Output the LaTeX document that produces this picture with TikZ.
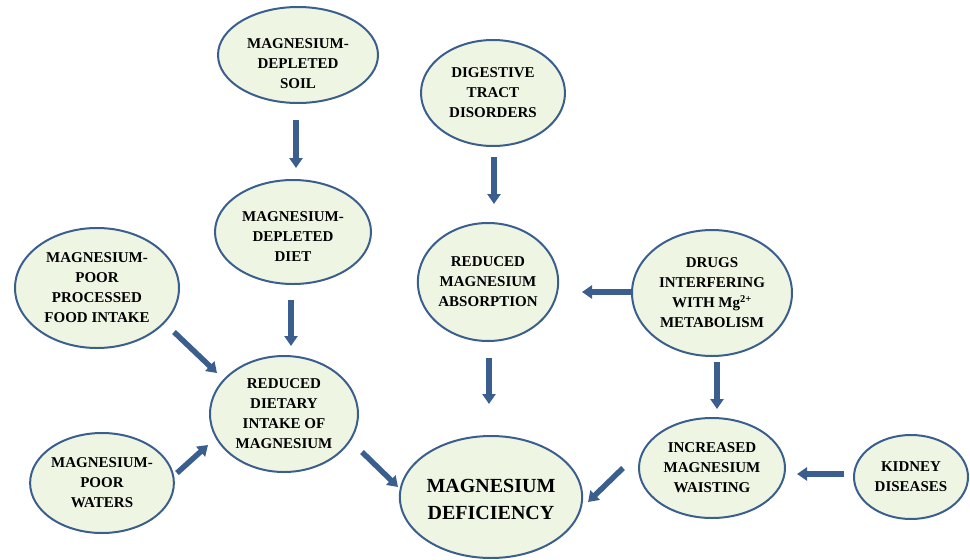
\documentclass[tikz,border=0pt]{standalone}
\usepackage{fontspec}
\setmainfont{Liberation Serif}
\usetikzlibrary{shapes.geometric,arrows.meta,calc}
\definecolor{edgeblue}{HTML}{3A5F8E}
\definecolor{fillgreen}{HTML}{EEF5E3}
\newcommand{\lowered}[2]{\raisebox{#1}[\height][\depth]{\begin{tabular}{@{}c@{}}#2\end{tabular}}}
\tikzset{
  bub/.style={ellipse, draw=edgeblue, line width=2pt, fill=fillgreen, inner sep=0pt,
    align=center, font=\fontsize{15}{20}\selectfont\bfseries},
  arr/.style={draw=edgeblue, line width=5.5pt, -{Triangle[length=10pt,width=13pt]}}
}
\begin{document}
\begin{tikzpicture}[x=1pt,y=-1pt]
\useasboundingbox (0,0) rectangle (970,560);
\node[bub, minimum width=160pt, minimum height=96pt] (soil) at (298,55) {\lowered{-9pt}{MAGNESIUM-\\DEPLETED\\SOIL}};
\node[bub, minimum width=144pt, minimum height=106pt] (dig) at (493,93) {DIGESTIVE\\TRACT\\DISORDERS};
\node[bub, minimum width=156pt, minimum height=104pt] (diet) at (293,232) {\lowered{-5pt}{MAGNESIUM-\\DEPLETED\\DIET}};
\node[bub, minimum width=140pt, minimum height=118pt] (abs) at (488,282) {REDUCED\\MAGNESIUM\\ABSORPTION};
\node[bub, minimum width=164pt, minimum height=120pt] (proc) at (97,288) {MAGNESIUM-\\POOR\\PROCESSED\\FOOD INTAKE};
\node[bub, minimum width=160pt, minimum height=126pt] (drugs) at (712,293) {DRUGS\\INTERFERING\\WITH Mg\textsuperscript{2+}\\METABOLISM};
\node[bub, minimum width=148pt, minimum height=116pt] (intake) at (284,414) {REDUCED\\DIETARY\\INTAKE OF\\MAGNESIUM};
\node[bub, minimum width=136pt, minimum height=100pt] (waters) at (102,483) {MAGNESIUM-\\POOR\\WATERS};
\node[bub, minimum width=162pt, minimum height=122pt, font=\fontsize{20}{27}\selectfont\bfseries] (def) at (491,497) {\lowered{-4pt}{MAGNESIUM\\DEFICIENCY}};
\node[bub, minimum width=146pt, minimum height=100pt] (incr) at (712,468) {INCREASED\\MAGNESIUM\\WAISTING};
\node[bub, minimum width=114pt, minimum height=84pt] (kid) at (911,477) {KIDNEY\\DISEASES};

\draw[arr] ($(soil)+(-2,65)$) -- ($(soil)+(-2,113)$);
\draw[arr] ($(diet)+(-2,68)$) -- ($(diet)+(-2,114)$);
\draw[arr] ($(dig)+(1,64)$) -- ($(dig)+(1,111)$);
\draw[arr] ($(abs)+(1,76)$) -- ($(abs)+(1,122)$);
\draw[arr] ($(drugs)+(5,69)$) -- ($(drugs)+(5,116)$);
\draw[arr] ($(drugs)+(-81,-1)$) -- ($(drugs)+(-130,-1)$);
\draw[arr] ($(kid)+(-67,-3)$) -- ($(kid)+(-114,-3)$);
\draw[arr] ($(proc)+(77,44)$) -- ($(proc)+(120,85)$);
\draw[arr] ($(waters)+(75,-10)$) -- ($(waters)+(106,-38)$);
\draw[arr] ($(intake)+(78,38)$) -- ($(intake)+(114,73)$);
\draw[arr] ($(incr)+(-89,0)$) -- ($(incr)+(-124,34)$);
\end{tikzpicture}
\end{document}
